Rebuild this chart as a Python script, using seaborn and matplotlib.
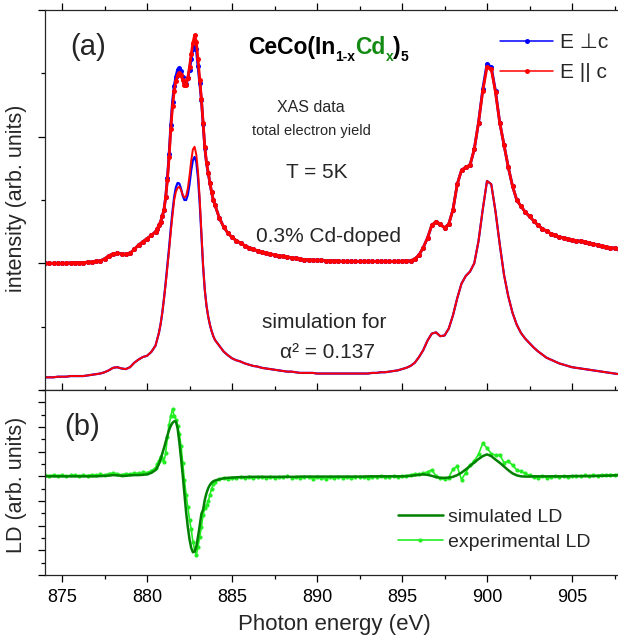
import numpy as np
import pandas as pd
import seaborn as sns
import matplotlib
matplotlib.use("Agg")
import matplotlib.pyplot as plt
from matplotlib.ticker import MultipleLocator

# energy grid: 0.25 eV steps, 0.1 eV across the M5 main peak
energy = np.concatenate([np.arange(874.0, 880.5, 0.25),
                         np.round(np.arange(880.5, 884.05, 0.1), 2),
                         np.arange(884.25, 908.0, 0.25)])

exp_perp = [2.00, 2.00, 2.00, 2.00, 2.00, 2.00, 2.01, 2.01, 2.01, 2.01, 2.02, 2.02, 2.03,
            2.04, 2.07, 2.12, 2.15, 2.16, 2.15, 2.14, 2.16, 2.22, 2.29, 2.34, 2.39, 2.44,
            # 880.5 - 884.0
            2.50, 2.54, 2.60, 2.66, 2.74, 2.85, 3.05, 3.35, 3.72, 4.18, 4.55, 4.80,
            4.95, 5.06, 5.08, 5.04, 4.95, 4.86, 4.83, 4.92, 5.06, 5.22, 5.38, 5.47,
            5.38, 5.12, 4.85, 4.58, 4.20, 3.82, 3.58, 3.42, 3.27, 3.12, 3.00, 2.92,
            # 884.25 - 907.75
            2.72, 2.58, 2.48, 2.41, 2.36, 2.32, 2.28,
            2.25, 2.22, 2.20, 2.18, 2.16, 2.15, 2.13, 2.12,
            2.11, 2.10, 2.09, 2.08, 2.07, 2.06, 2.06, 2.05,
            2.05, 2.05, 2.04, 2.04, 2.04, 2.04, 2.03, 2.03,
            2.03, 2.03, 2.03, 2.03, 2.03, 2.03, 2.03, 2.03,
            2.03, 2.03, 2.03, 2.03, 2.03, 2.04, 2.04, 2.07,
            2.13, 2.25, 2.40, 2.60, 2.66, 2.62, 2.56, 2.62,
            2.85, 3.25, 3.47, 3.52, 3.55, 3.80, 4.22, 4.75,
            5.15, 5.10, 4.72, 4.22, 3.87, 3.52, 3.22, 3.00,
            2.90, 2.81, 2.74, 2.67, 2.60, 2.55, 2.51, 2.47,
            2.44, 2.42, 2.40, 2.38, 2.37, 2.36, 2.35, 2.34,
            2.32, 2.30, 2.29, 2.27, 2.26, 2.25, 2.24, 2.23]

exp_par = [2.00, 2.00, 2.00, 2.00, 2.00, 2.00, 2.01, 2.01, 2.01, 2.01, 2.02, 2.02, 2.03,
           2.04, 2.07, 2.12, 2.15, 2.16, 2.15, 2.14, 2.16, 2.22, 2.29, 2.34, 2.39, 2.44,
           2.50, 2.54, 2.60, 2.66, 2.74, 2.85, 3.04, 3.32, 3.68, 4.12, 4.48, 4.72,
           4.88, 4.97, 5.00, 4.97, 4.89, 4.82, 4.82, 4.93, 5.10, 5.30, 5.48, 5.60,
           5.50, 5.22, 4.90, 4.60, 4.22, 3.84, 3.59, 3.43, 3.27, 3.12, 3.00, 2.92,
           2.72, 2.58, 2.48, 2.41, 2.36, 2.32, 2.28,
           2.25, 2.22, 2.20, 2.18, 2.16, 2.15, 2.13, 2.12,
           2.11, 2.10, 2.09, 2.08, 2.07, 2.06, 2.06, 2.05,
           2.05, 2.05, 2.04, 2.04, 2.04, 2.04, 2.03, 2.03,
           2.03, 2.03, 2.03, 2.03, 2.03, 2.03, 2.03, 2.03,
           2.03, 2.03, 2.03, 2.03, 2.03, 2.04, 2.04, 2.07,
           2.13, 2.25, 2.40, 2.60, 2.66, 2.62, 2.56, 2.62,
           2.85, 3.25, 3.47, 3.52, 3.55, 3.80, 4.22, 4.72,
           5.10, 5.07, 4.70, 4.22, 3.87, 3.52, 3.22, 3.00,
           2.90, 2.81, 2.74, 2.67, 2.60, 2.55, 2.51, 2.47,
           2.44, 2.42, 2.40, 2.38, 2.37, 2.36, 2.35, 2.34,
           2.32, 2.30, 2.29, 2.27, 2.26, 2.25, 2.24, 2.23]

sim_perp = [0.20, 0.20, 0.20, 0.21, 0.21, 0.21, 0.22, 0.22, 0.22, 0.22, 0.23, 0.24, 0.25,
            0.26, 0.28, 0.31, 0.35, 0.36, 0.34, 0.33, 0.36, 0.43, 0.48, 0.52, 0.54, 0.60,
            0.70, 0.80, 0.90, 1.04, 1.22, 1.45, 1.70, 1.97, 2.25, 2.55, 2.82, 3.05,
            3.20, 3.27, 3.26, 3.18, 3.07, 3.00, 3.00, 3.08, 3.25, 3.47, 3.63, 3.68,
            3.60, 3.35, 2.95, 2.45, 1.95, 1.58, 1.33, 1.16, 1.03, 0.93, 0.85, 0.79,
            0.70, 0.61, 0.55, 0.50, 0.47, 0.45, 0.42,
            0.40, 0.38, 0.37, 0.35, 0.34, 0.33, 0.32, 0.31,
            0.30, 0.29, 0.29, 0.28, 0.27, 0.27, 0.27, 0.27,
            0.26, 0.26, 0.26, 0.26, 0.26, 0.26, 0.26, 0.26,
            0.26, 0.26, 0.26, 0.26, 0.26, 0.27, 0.27, 0.28,
            0.28, 0.29, 0.30, 0.31, 0.33, 0.35, 0.38, 0.43,
            0.52, 0.63, 0.78, 0.89, 0.91, 0.85, 0.86, 0.97,
            1.18, 1.45, 1.68, 1.80, 1.87, 2.00, 2.35, 2.85,
            3.30, 3.25, 2.82, 2.30, 1.82, 1.48, 1.22, 1.03,
            0.90, 0.81, 0.74, 0.67, 0.61, 0.56, 0.51, 0.48,
            0.45, 0.42, 0.40, 0.38, 0.36, 0.35, 0.34, 0.33,
            0.32, 0.31, 0.30, 0.29, 0.28, 0.27, 0.26, 0.25]

sim_par = [0.20, 0.20, 0.20, 0.21, 0.21, 0.21, 0.22, 0.22, 0.22, 0.22, 0.23, 0.24, 0.25,
           0.26, 0.28, 0.31, 0.35, 0.36, 0.34, 0.33, 0.36, 0.43, 0.48, 0.52, 0.54, 0.60,
           0.70, 0.80, 0.90, 1.04, 1.22, 1.44, 1.68, 1.94, 2.21, 2.50, 2.76, 3.00,
           3.13, 3.19, 3.21, 3.16, 3.08, 3.04, 3.06, 3.18, 3.38, 3.62, 3.80, 3.84,
           3.72, 3.45, 3.02, 2.48, 1.96, 1.58, 1.33, 1.16, 1.03, 0.93, 0.85, 0.79,
           0.70, 0.61, 0.55, 0.50, 0.47, 0.45, 0.42,
           0.40, 0.38, 0.37, 0.35, 0.34, 0.33, 0.32, 0.31,
           0.30, 0.29, 0.29, 0.28, 0.27, 0.27, 0.27, 0.27,
           0.26, 0.26, 0.26, 0.26, 0.26, 0.26, 0.26, 0.26,
           0.26, 0.26, 0.26, 0.26, 0.26, 0.27, 0.27, 0.28,
           0.28, 0.29, 0.30, 0.31, 0.33, 0.35, 0.38, 0.43,
           0.52, 0.63, 0.78, 0.89, 0.91, 0.85, 0.86, 0.97,
           1.18, 1.45, 1.68, 1.80, 1.87, 2.00, 2.35, 2.85,
           3.30, 3.25, 2.82, 2.30, 1.82, 1.48, 1.22, 1.03,
           0.90, 0.81, 0.74, 0.67, 0.61, 0.56, 0.51, 0.48,
           0.45, 0.42, 0.40, 0.38, 0.36, 0.35, 0.34, 0.33,
           0.32, 0.31, 0.30, 0.29, 0.28, 0.27, 0.26, 0.25]

ld_sim = [0.00, 0.00, 0.00, 0.00, 0.00, 0.00, 0.00, 0.00, 0.00, 0.00, 0.00, 0.00, 0.00,
          0.01, 0.02, 0.03, 0.05, 0.04, 0.02, 0.02, 0.04, 0.05, 0.05, 0.06, 0.08, 0.14,
          0.25, 0.36, 0.50, 0.70, 0.92, 1.15, 1.40, 1.65, 1.88, 2.05, 2.17, 2.23,
          2.22, 1.95, 1.40, 0.75, 0.05, -0.70, -1.45, -2.05, -2.55, -2.90, -3.08, -3.05,
          -2.85, -2.45, -2.00, -1.52, -1.35, -0.95, -0.68, -0.48, -0.35, -0.26, -0.20, -0.17,
          -0.12, -0.08, -0.06, -0.05, -0.04, -0.03, -0.03,
          -0.02, -0.02, -0.02, -0.02, -0.02, -0.02, -0.02, -0.02,
          -0.02, -0.02, -0.02, -0.02, -0.01, -0.01, -0.01, -0.01,
          -0.01, -0.01, -0.01, -0.01, -0.01, -0.01, -0.01, -0.01,
          -0.01, -0.01, -0.01, -0.01, 0.00, 0.00, 0.00, 0.00,
          0.00, 0.00, 0.00, 0.00, 0.00, 0.01, 0.02, 0.04,
          0.06, 0.08, 0.06, 0.02, -0.03, -0.06, -0.06, -0.05,
          -0.02, 0.05, 0.15, 0.28, 0.42, 0.56, 0.70, 0.82,
          0.89, 0.82, 0.68, 0.55, 0.40, 0.25, 0.12, 0.04,
          0.00, -0.01, -0.01, 0.00, 0.00, 0.00, 0.00, 0.00,
          0.00, 0.00, 0.00, 0.00, 0.01, 0.01, 0.01, 0.01,
          0.01, 0.01, 0.02, 0.02, 0.03, 0.03, 0.04, 0.04]

ld_exp = [0.05, 0.02, 0.06, 0.03, 0.05, 0.01, 0.04, 0.06, 0.02, 0.05, 0.03, 0.07, 0.04,
          0.08, 0.05, 0.10, 0.14, 0.10, 0.06, 0.11, 0.08, 0.14, 0.12, 0.16, 0.15, 0.22,
          0.35, 0.48, 0.62, 0.80, 0.72, 0.60, 0.95, 1.60, 2.10, 2.45, 2.72, 2.45,
          2.30, 2.05, 1.70, 1.25, 0.55, -0.15, -0.75, -1.25, -1.75, -2.15, -2.65, -2.95,
          -3.20, -2.85, -2.45, -2.05, -1.55, -1.30, -1.15, -1.02, -0.75, -0.50, -0.32, -0.22,
          -0.12, -0.08, -0.10, -0.05, -0.08, -0.03, -0.06,
          -0.02, -0.07, -0.04, -0.01, -0.05, -0.03, -0.07, -0.02,
          -0.04, 0.00, -0.05, -0.03, -0.06, -0.01, -0.04, -0.09,
          -0.03, -0.06, -0.10, -0.04, -0.07, -0.02, -0.06, -0.03,
          -0.05, -0.01, -0.04, -0.02, -0.06, -0.02, -0.04, 0.00,
          -0.03, -0.01, 0.02, -0.02, 0.01, 0.03, 0.05, 0.10,
          0.08, 0.12, 0.18, 0.26, 0.02, -0.08, -0.12, -0.05,
          0.30, 0.40, -0.13, 0.15, 0.45, 0.62, 0.89, 1.34,
          1.15, 0.92, 0.86, 0.88, 0.55, 0.62, 0.45, 0.26,
          0.20, 0.12, 0.04, -0.03, -0.05, 0.02, -0.06, -0.02,
          0.00, -0.04, 0.01, -0.02, 0.02, 0.03, 0.00, 0.04,
          0.02, 0.05, 0.03, 0.06, 0.05, 0.07, 0.06, 0.08]

blue = "#0000ff"
red = "#ff0000"
dark_green = "#008000"
light_green = "#22ee22"

sns.set_style("ticks")
plt.rcParams['font.family'] = ['Liberation Sans', 'DejaVu Sans']
plt.rcParams['axes.linewidth'] = 0.9

W, H = 618, 640
fig = plt.figure(figsize=(W / 100, H / 100), dpi=100)
ax1 = fig.add_axes([45 / W, 250 / H, 578 / W, 380 / H])
ax2 = fig.add_axes([45 / W, 65 / H, 578 / W, 185 / H])

# (a) XAS spectra
sns.lineplot(x=energy, y=exp_perp, ax=ax1, color=blue, lw=2.0, marker="o",
             markersize=3.6, markeredgewidth=0, label="E \u22a5c")
sns.lineplot(x=energy, y=exp_par, ax=ax1, color=red, lw=2.0, marker="o",
             markersize=3.6, markeredgewidth=0, label="E || c")
sns.lineplot(x=energy, y=sim_perp, ax=ax1, color=blue, lw=1.6)
sns.lineplot(x=energy, y=sim_par, ax=ax1, color=red, lw=1.4)

# (b) linear dichroism
sns.lineplot(x=energy, y=ld_exp, ax=ax2, color=light_green, lw=1.2, marker="o",
             markersize=3, markeredgewidth=0, label="experimental LD")
sns.lineplot(x=energy, y=ld_sim, ax=ax2, color=dark_green, lw=1.8,
             label="simulated LD")

for ax in (ax1, ax2):
    ax.set_xlim(874, 908)
    ax.xaxis.set_major_locator(MultipleLocator(5))
    ax.xaxis.set_minor_locator(MultipleLocator(2.5))
    ax.tick_params(which="both", direction="out", top=True, right=False,
                   width=0.9, labelsize=13, colors="black")
    ax.tick_params(which="major", length=5)
    ax.tick_params(which="minor", length=3)
    ax.spines["right"].set_visible(False)
    ax.set_xlabel("")
    ax.set_ylabel("")

ax1.set_ylim(0, 6)
ax1.yaxis.set_major_locator(MultipleLocator(2))
ax1.yaxis.set_minor_locator(MultipleLocator(1))
ax1.tick_params(labelbottom=False, labelleft=False)

ax2.set_ylim(-4, 3.5)
ax2.yaxis.set_major_locator(MultipleLocator(1))
ax2.yaxis.set_minor_locator(MultipleLocator(0.5))
ax2.tick_params(labelleft=False, pad=5)

h1, l1 = ax1.get_legend_handles_labels()
leg1 = ax1.legend(h1[:2], l1[:2], loc="upper left", bbox_to_anchor=(455 / 578, (390 - 33) / 380),
                  frameon=False, fontsize=15, handlelength=2.55, handletextpad=0.35,
                  labelspacing=0.55, borderpad=0, borderaxespad=0)
for ln in leg1.get_lines():
    ln.set_linewidth(1.1)
h2, l2 = ax2.get_legend_handles_labels()
ax2.legend([h2[1], h2[0]], [l2[1], l2[0]], loc="upper left",
           bbox_to_anchor=(353 / 578, (575 - 508) / 185), frameon=False, fontsize=14,
           handlelength=2.3, handletextpad=0.25, labelspacing=0.4, borderpad=0,
           borderaxespad=0)

ax2.set_xlabel("Photon energy (eV)", fontsize=16, labelpad=6)
fig.text(17 / W, 1 - 198 / H, "intensity (arb. units)", rotation=90, fontsize=15.5,
         ha="center", va="center")
fig.text(17 / W, 1 - 485 / H, "LD (arb. units)", rotation=90, fontsize=15.5,
         ha="center", va="center")

fig.text(88 / W, 1 - 47 / H, "(a)", fontsize=21, ha="center", va="center")
fig.text(82 / W, 1 - 427 / H, "(b)", fontsize=21, ha="center", va="center")

fig.text(311 / W, 1 - 107 / H, "XAS data", fontsize=11.5, ha="center", va="center")
fig.text(311 / W, 1 - 131 / H, "total electron yield", fontsize=10.5, ha="center", va="center")
fig.text(317 / W, 1 - 172 / H, "T = 5K", fontsize=15, ha="center", va="center")
fig.text(329 / W, 1 - 236 / H, "0.3% Cd-doped", fontsize=15, ha="center", va="center")
fig.text(324 / W, 1 - 323 / H, "simulation for", fontsize=15, ha="center", va="center")
fig.text(327 / W, 1 - 353 / H, "\u03b1\u00b2 = 0.137", fontsize=15, ha="center", va="center")

# compound name, written piece by piece
renderer = fig.canvas.get_renderer()
pieces = [("CeCo(In", 16.5, 0, "black"), ("1-x", 10, -7, "black"),
          ("Cd", 16.5, 0, "#138a13"), ("x", 10, -7, "#138a13"),
          (")", 16.5, 0, "black"), ("5", 10, -7, "black")]
xpos = 248
for s, size, dy, col in pieces:
    t = fig.text(xpos / W, (H - 54 + dy) / H, s, fontsize=size, fontweight="bold",
                 color=col, ha="left", va="baseline")
    xpos += t.get_window_extent(renderer).width

fig.savefig("out.png", dpi=100)
